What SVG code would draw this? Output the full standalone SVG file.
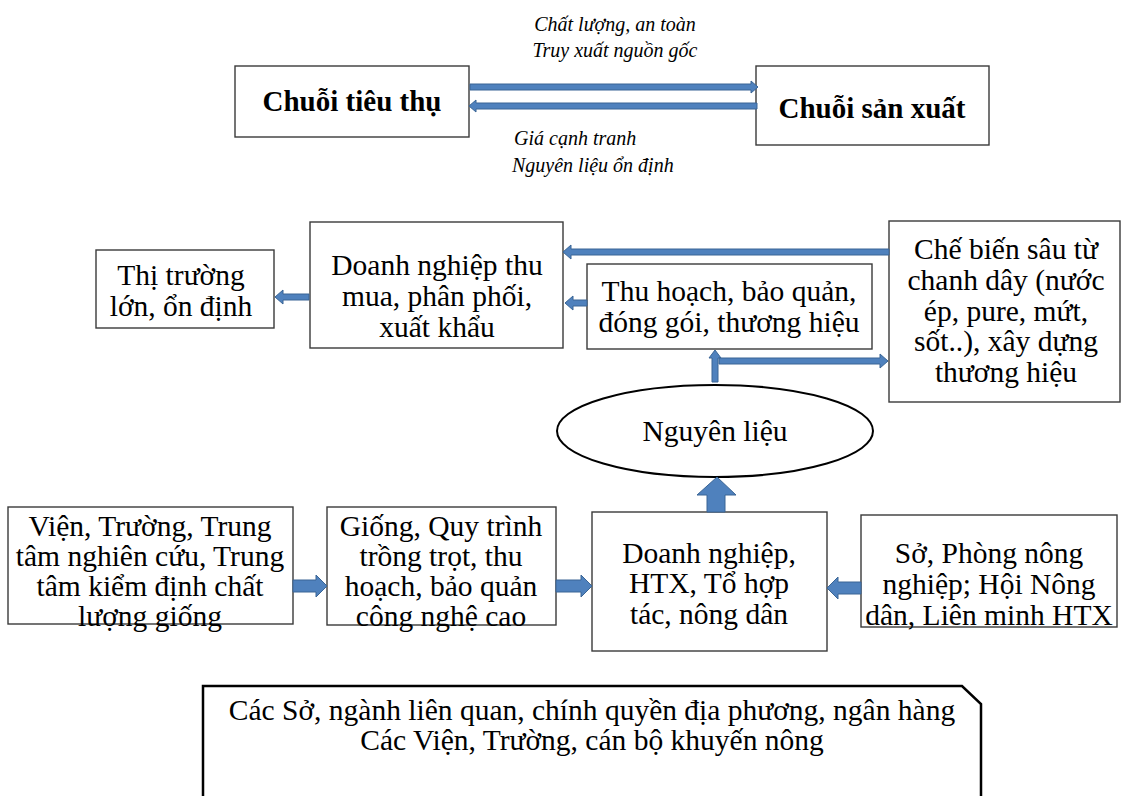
<svg xmlns="http://www.w3.org/2000/svg" width="1121" height="796" viewBox="0 0 1121 796">
<style>
.box{fill:#fff;stroke:#3a3a3a;stroke-width:1.4}
.t{font-family:"Liberation Serif","Times New Roman",serif;font-size:29.5px;fill:#000;text-anchor:middle}
.b{font-family:"Liberation Serif","Times New Roman",serif;font-size:29px;font-weight:bold;fill:#000;text-anchor:middle}
.i{font-family:"Liberation Serif","Times New Roman",serif;font-size:20px;font-style:italic;fill:#000}
.ar{fill:#4f81bd;stroke:#3a6595;stroke-width:1}
</style>
<rect width="1121" height="796" fill="#fff"/>
<g id="chuoi-tieu-thu"><rect class="box" x="235" y="66" width="234" height="71"/><text class="b" x="352" y="111">Chuỗi tiêu thụ</text></g>
<g id="chuoi-san-xuat"><rect class="box" x="756" y="66" width="233" height="79"/><text class="b" x="872" y="118">Chuỗi sản xuất</text></g>
<g id="labels-top">
<text class="i" x="615" y="31" text-anchor="middle">Chất lượng, an toàn</text>
<text class="i" x="615" y="57" text-anchor="middle">Truy xuất nguồn gốc</text>
<text class="i" x="514" y="145">Giá cạnh tranh</text>
<text class="i" x="512" y="172">Nguyên liệu ổn định</text>
</g>
<g id="thi-truong"><rect class="box" x="96" y="250" width="178" height="78"/><text class="t" x="181" y="285">Thị trường</text><text class="t" x="181" y="316">lớn, ổn định</text></g>
<g id="dn-thu-mua"><rect class="box" x="310" y="222" width="253" height="126"/><text class="t" x="437" y="275">Doanh nghiệp thu</text><text class="t" x="437" y="306">mua, phân phối,</text><text class="t" x="437" y="337">xuất khẩu</text></g>
<g id="thu-hoach"><rect class="box" x="587" y="264" width="285" height="85"/><text class="t" x="729" y="301">Thu hoạch, bảo quản,</text><text class="t" x="729" y="332">đóng gói, thương hiệu</text></g>
<g id="che-bien"><rect class="box" x="889" y="221" width="231" height="181"/><text class="t" x="1006" y="259">Chế biến sâu từ</text><text class="t" x="1006" y="290">chanh dây (nước</text><text class="t" x="1006" y="321">ép, pure, mứt,</text><text class="t" x="1006" y="351">sốt..), xây dựng</text><text class="t" x="1006" y="382">thương hiệu</text></g>
<g id="nguyen-lieu"><ellipse cx="715" cy="431" rx="158" ry="46" fill="#fff" stroke="#000" stroke-width="2"/><text class="t" x="715" y="441">Nguyên liệu</text></g>
<g id="vien-truong"><rect class="box" x="8" y="507" width="285" height="117"/><text class="t" x="150" y="536">Viện, Trường, Trung</text><text class="t" x="150" y="566">tâm nghiên cứu, Trung</text><text class="t" x="150" y="596">tâm kiểm định chất</text><text class="t" x="150" y="626">lượng giống</text></g>
<g id="giong"><rect class="box" x="327" y="507" width="229" height="118"/><text class="t" x="441" y="536">Giống, Quy trình</text><text class="t" x="441" y="566">trồng trọt, thu</text><text class="t" x="441" y="596">hoạch, bảo quản</text><text class="t" x="441" y="626">công nghệ cao</text></g>
<g id="dn-htx"><rect class="box" x="592" y="512" width="235" height="139"/><text class="t" x="709" y="563">Doanh nghiệp,</text><text class="t" x="709" y="593">HTX, Tổ hợp</text><text class="t" x="709" y="624">tác, nông dân</text></g>
<g id="so-phong"><rect class="box" x="861" y="515" width="256" height="112"/><text class="t" x="989" y="563">Sở, Phòng nông</text><text class="t" x="989" y="594">nghiệp; Hội Nông</text><text class="t" x="989" y="625">dân, Liên minh HTX</text></g>
<g id="ho-tro"><polygon points="203,686 962,686 981,704 981,800 203,800" fill="#fff" stroke="#000" stroke-width="2.5"/><text class="t" x="592" y="720">Các Sở, ngành liên quan, chính quyền địa phương, ngân hàng</text><text class="t" x="592" y="750">Các Viện, Trường, cán bộ khuyến nông</text></g>
<g id="connectors">
<polygon class="ar" points="470,84 751,84 751,81 758,87 751,93 751,90 470,90"/>
<polygon class="ar" points="757,103 476,103 476,100 469,106 476,112 476,109 757,109"/>
<polygon class="ar" points="889,249 571,249 571,245 563,252 571,259 571,255 889,255"/>
<polygon class="ar" points="587,300 573,300 573,296 565,303 573,310 573,306 587,306"/>
<polygon class="ar" points="309,294 283,294 283,290 275,297 283,304 283,300 309,300"/>
<polygon class="ar" points="712,382 712,358 709,358 715,350 721,358 718,358 718,382"/>
<polygon class="ar" points="719,358 880,358 880,354 888,361 880,368 880,364 719,364"/>
<polygon class="ar" points="707,512 707,495 697,495 717,477 736,495 725,495 725,512"/>
<polygon class="ar" points="293,580 316,580 316,575 327,586 316,597 316,592 293,592"/>
<polygon class="ar" points="556,580 581,580 581,575 592,586 581,597 581,592 556,592"/>
<polygon class="ar" points="861,582 838,582 838,577 827,588 838,599 838,594 861,594"/>
</g>
</svg>
